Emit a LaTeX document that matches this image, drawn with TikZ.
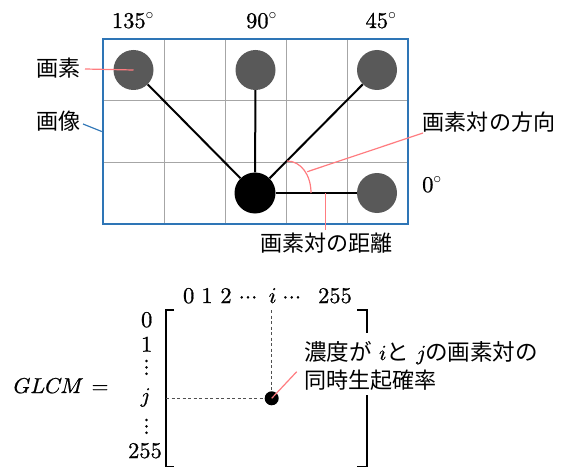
\documentclass[tikz,border=0pt]{standalone}
\usepackage{fontspec}
\setmainfont{lmroman10-regular}[Extension=.otf, FakeBold=0.8]
\newfontfamily\lmm{latinmodern-math}[Extension=.otf, FakeBold=0.8]
\newfontfamily\jp{Noto Sans CJK JP}[Scale=1.05]
\DeclareFontShape{OMS}{cmsy}{m}{n}{<->cmsy10}{}
\newcommand{\myvdots}{\vbox{\baselineskip6.4pt\lineskiplimit0pt\hbox{.}\hbox{.}\hbox{.}}}
\definecolor{pinkline}{HTML}{FF7C80}
\definecolor{imgblue}{HTML}{2E75B6}
\definecolor{pixgray}{HTML}{595959}
\definecolor{gridgray}{HTML}{A6A6A6}
\definecolor{dashgray}{HTML}{505050}
\begin{document}
\begin{tikzpicture}[x=1pt,y=-1pt,
  txt/.style={font=\fontsize{22.5}{26}\selectfont, inner sep=0pt, anchor=base},
  mtxt/.style={font=\fontsize{21.5}{26}\selectfont\lmm, inner sep=0pt, anchor=base},
  jtxt/.style={font=\fontsize{21}{25}\selectfont\jp, inner sep=0pt, anchor=base},
  pix/.style={circle, fill=pixgray, minimum size=40pt, inner sep=0pt},
  center pix/.style={circle, fill=black, minimum size=41pt, inner sep=0pt},
  gridline/.style={draw=gridgray, line width=1pt},
  pair/.style={draw=black, line width=2pt},
  leader/.style={draw=pinkline, line width=1.2pt},
  bluelead/.style={draw=imgblue, line width=1.2pt},
  bracketline/.style={draw=black, line width=1.6pt},
  guide/.style={draw=dashgray, line width=0.9pt, dash pattern=on 3pt off 2.5pt}
]
\useasboundingbox (0,0) rectangle (570,468);

% grid
\foreach \x in {164,225,286,347} \draw[gridline] (\x,39) -- (\x,224);
\foreach \y in {100.7,162.3} \draw[gridline] (103,\y) -- (408,\y);
\node[draw=imgblue, line width=2.5pt, minimum width=305pt, minimum height=185pt, inner sep=0pt] (img) at (255.5,131.5) {};

% pixels
\node[pix] (p135) at (133.5,70) {};
\node[pix] (p90) at (255.5,70) {};
\node[pix] (p45) at (377,70) {};
\node[pix] (p0) at (377,193) {};
\node[center pix] (pc) at (255,193) {};
\draw[pair] (pc) -- (p135);
\draw[pair] (pc) -- (p90);
\draw[pair] (pc) -- (p45);
\draw[pair] (pc) -- (p0);

% angle labels
\node[txt] (a135) at (133,28) {135$^\circ$};
\node[txt] (a90) at (261.5,28) {90$^\circ$};
\node[txt] (a45) at (381,28) {45$^\circ$};
\node[txt] (a0) at (432,192) {0$^\circ$};

% direction arc
\draw[leader] (287,161) .. controls (301,161) and (311,175) .. (311,193);
\coordinate (arcpt) at (307.3,171.7);
\coordinate (distpt) at (325.7,193);

% labels
\node[jtxt] (lpix) at (58.5,76.5) {画素};
\node[jtxt] (limg) at (58.5,130) {画像};
\node[jtxt] (ldir) at (489,131) {画素対の方向};
\node[jtxt] (ldist) at (326.5,251.5) {画素対の距離};
\coordinate (lpixend) at (85,69);
\coordinate (limgend) at (83,124);
\coordinate (ldirend) at (423,133);
\coordinate (ldistend) at (325.7,230);
\draw[leader] (lpixend) -- (p135.center);
\draw[bluelead] (limgend) -- (img.west);
\draw[leader] (ldirend) -- (arcpt);
\draw[leader] (ldistend) -- (distpt);

% GLCM
\node[mtxt] (glcm) at (47.5,393) {𝐺𝐿𝐶𝑀};
\node[mtxt] (eq) at (100,393) {=};
\foreach \t/\x in {0/188.7,1/207,2/226,{\lmm ⋯}/248,{\lmm 𝑖}/272.7,{\lmm ⋯}/291.7,255/335}
  \node[txt] at (\x,303) {\t};
\node[txt] (r0) at (146.7,327) {0};
\node[txt] (r1) at (146.7,351.7) {1};
\node[txt] (rv1) at (146.5,375) {\myvdots};
\node[mtxt] (rj) at (145,402.5) {𝑗};
\node[txt] (rv2) at (146.5,434) {\myvdots};
\node[txt] (r255) at (145,458) {255};

% brackets
\draw[bracketline] (174,310) -- (166,310) -- (166,466.5) -- (174,466.5);
\draw[bracketline] (357,310) -- (367,310) -- (367,333);
\draw[bracketline] (367,395) -- (367,466.5) -- (357,466.5);

% dot and guides
\node[circle, fill=black, minimum size=14pt, inner sep=0pt] (dot) at (271.7,398.3) {};
\coordinate (colstart) at (271.7,310);
\coordinate (rowstart) at (166,398.3);
\draw[guide] (colstart) -- (dot);
\draw[guide] (rowstart) -- (dot);
\node[mtxt, anchor=base west] (prob1) at (304,360) {{\jp 濃度が} 𝑖{\jp と} 𝑗{\jp の画素対の}};
\node[jtxt, anchor=base west] (prob2) at (304,388.5) {同時生起確率};
\coordinate (probend) at (296.7,371.7);
\draw[leader] (dot.center) -- (probend);
\end{tikzpicture}
\end{document}
